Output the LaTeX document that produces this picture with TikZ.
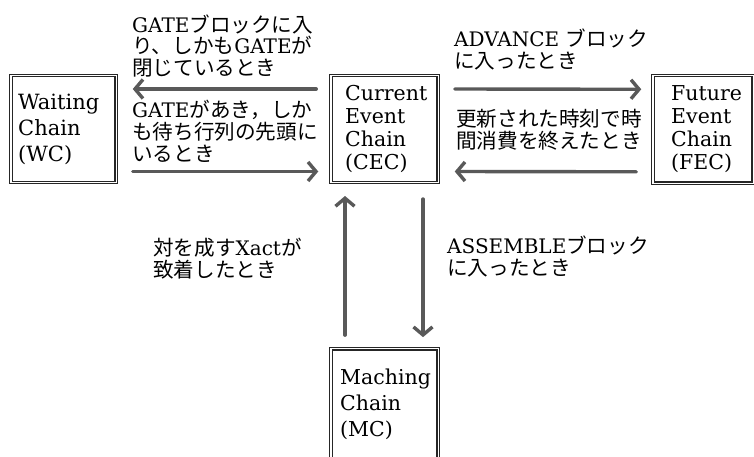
\documentclass[tikz,border=0pt]{standalone}
\usepackage{fontspec}
\setmainfont{DejaVu Serif}
\newfontfamily\jp[Scale=1.03]{Noto Sans CJK JP}
\newcommand\J[1]{{\jp #1}}
\usetikzlibrary{arrows.meta}
\begin{document}
\begin{tikzpicture}[x=1pt,y=-1pt,
  chainbox/.style={draw=black!85, double=white, double distance=1.4pt, line width=1.1pt, inner sep=0pt},
  boxtext/.style={font=\fontsize{20.5}{23}\selectfont, align=left, inner sep=0pt, anchor=west},
  lbl/.style={font=\fontsize{20}{22.5}\selectfont, align=left, inner sep=0pt, anchor=west},
  arr/.style={draw=black!65, line width=3.4pt, line cap=round, -{Straight Barb[length=8pt,width=19pt]}}
]
\useasboundingbox (0,0) rectangle (754,457);
\clip (0,0) rectangle (754,457);

% boxes
\node[chainbox, minimum width=105.4pt, minimum height=106.9pt] (WC) at (63.5,129) {};
\node[chainbox, minimum width=107.4pt, minimum height=106.9pt] (CEC) at (384.5,129) {};
\node[chainbox, minimum width=100.4pt, minimum height=107.9pt] (FEC) at (703,129.3) {};
\node[chainbox, minimum width=107.4pt, minimum height=140pt] (MC) at (384.5,418.7) {};

% box texts
\node[boxtext, font=\fontsize{21}{26}\selectfont] (wct) at (18,129) {Waiting\\Chain\\(WC)};
\node[boxtext] (cect) at (345,129) {Current\\Event\\Chain\\(CEC)};
\node[boxtext] (fect) at (671,129) {Future\\Event\\Chain\\(FEC)};
\node[boxtext, font=\fontsize{20.5}{26}\selectfont] (mct) at (340,404) {Maching\\Chain\\(MC)};

% condition labels
\node[lbl, font=\fontsize{20}{21.8}\selectfont] (g1) at (132,46) {GATE\J{ブロックに入}\\\J{り、しかも}GATE\J{が}\\\J{閉じているとき}};
\node[lbl, font=\fontsize{20}{21.8}\selectfont] (g2) at (132,131) {GATE\J{があき，しか}\\\J{も待ち行列の先頭に}\\\J{いるとき}};
\node[lbl] (adv) at (454,49.5) {ADVANCE \J{ブロック}\\\J{に入ったとき}};
\node[lbl] (upd) at (456,129.5) {\J{更新された時刻で時}\\\J{間消費を終えたとき}};
\node[lbl] (pair) at (153,258.5) {\J{対を成す}Xact\J{が}\\\J{致着したとき}};
\node[lbl] (asm) at (447,256.5) {ASSEMBLE\J{ブロック}\\\J{に入ったとき}};

% connectors
\draw[arr] ([xshift=-14pt,yshift=40pt]CEC.west) -- ([xshift=16pt,yshift=40pt]WC.east);
\draw[arr] ([xshift=16pt,yshift=-42.5pt]WC.east) -- ([xshift=-12pt,yshift=-42.5pt]CEC.west);
\draw[arr] ([xshift=16pt,yshift=40pt]CEC.east) -- ([xshift=-11pt,yshift=40pt]FEC.west);
\draw[arr] ([xshift=-16pt,yshift=-42.5pt]FEC.west) -- ([xshift=16pt,yshift=-42.5pt]CEC.east);
\draw[arr] ([xshift=-39.5pt,yshift=13pt]MC.north) -- ([xshift=-39.5pt,yshift=-13pt]CEC.south);
\draw[arr] ([xshift=38.5pt,yshift=-16pt]CEC.south) -- ([xshift=38.5pt,yshift=11pt]MC.north);
\end{tikzpicture}
\end{document}
